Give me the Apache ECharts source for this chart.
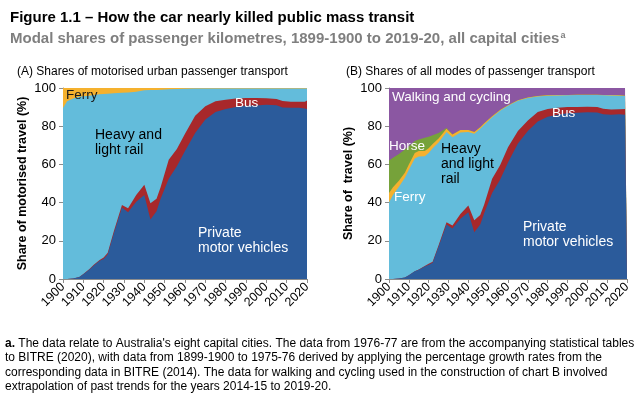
<!DOCTYPE html>
<html>
<head>
<meta charset="utf-8">
<script src="https://cdn.jsdelivr.net/npm/echarts@6/dist/echarts.min.js"></script>
<style>
  html, body { margin: 0; padding: 0; background: #fff; }
  #chart { width: 644px; height: 397px; }
</style>
</head>
<body>
<div id="chart"></div>
<script>
var years = [1900, 1902, 1905, 1908, 1910, 1913, 1915, 1918, 1920, 1922, 1925, 1929, 1932, 1936, 1940, 1943, 1946, 1948,
  1952, 1956, 1960, 1965, 1970, 1975, 1980, 1985, 1990, 1995, 2000, 2005, 2008, 2012, 2016, 2019, 2020];

// chart A - shares of motorised travel (%)
var motorPmv = [0, 0, 0.3, 1, 2.5, 5, 7, 9.5, 10.5, 13, 24, 37.5, 35, 40.5, 44, 31.2, 35.5, 42,
  52.5, 59, 67, 76.5, 83.5, 87.5, 89, 90, 90.7, 90.8, 91.2, 91, 89.8, 89.6, 89.7, 89.3, 89];
var motorBus = [0, 0, 0, 0, 0.1, 0.2, 0.3, 0.5, 0.8, 0.8, 1, 1.2, 2, 3.5, 5.3, 8.5, 6.5, 6,
  10, 9, 9, 9, 7, 5.5, 4.8, 4.5, 4.1, 4, 3.4, 3.2, 3.4, 3.2, 3.1, 3.5, 4.5];
var motorRail = [89.5, 93, 94.2, 94.4, 93.1, 90.8, 89, 86.7, 85.5, 83.2, 72.2, 58.8, 60.7, 54, 49.5, 59.2, 57, 51.1,
  36.8, 31.5, 23.6, 14.2, 9.2, 6.8, 6, 5.3, 5, 5, 5.2, 5.6, 6.6, 7, 7, 7, 6.3];
var motorFerry = [10.5, 7, 5.5, 4.6, 4.3, 4, 3.7, 3.3, 3.2, 3, 2.8, 2.5, 2.3, 2, 1.2, 1.1, 1, 0.9,
  0.7, 0.5, 0.4, 0.3, 0.3, 0.2, 0.2, 0.2, 0.2, 0.2, 0.2, 0.2, 0.2, 0.2, 0.2, 0.2, 0.2];

// chart B - shares of all travel (%)
var allPmv = [0, 0, 0.2, 0.8, 2, 4, 4.8, 6.5, 7.5, 8.5, 17, 28.5, 26.5, 31.5, 35, 24.5, 28.5, 34.5,
  45, 52, 61, 71, 77.5, 82.5, 85, 86, 86.8, 87.1, 87.3, 87.2, 86.3, 86, 86.2, 86, 85.8];
var allBus = [0, 0, 0, 0, 0, 0.1, 0.2, 0.3, 0.5, 0.5, 0.7, 1.2, 1.5, 2.5, 3.5, 6.3, 5, 4.5,
  7.5, 7.5, 8, 6.5, 5.5, 5, 4, 3.7, 3.2, 3, 2.9, 2.8, 2.8, 2.7, 2.7, 3, 3.6];
var allRail = [40, 44, 48.1, 52.2, 55.2, 59, 59.2, 57.5, 58, 59.5, 53.8, 47.2, 46.2, 42.7, 38.5, 45.2, 45.2, 41.8,
  32.2, 28.6, 21.7, 15.8, 11.8, 8.1, 7, 6.4, 6.2, 6.2, 6.1, 6.3, 7.1, 7.4, 7.1, 6.8, 6.2];
var allFerry = [5, 4, 3.2, 2.6, 2.8, 2.9, 2.8, 2.7, 2.5, 2.2, 2, 1.8, 1.5, 1.3, 1, 1, 0.8, 0.7,
  0.5, 0.4, 0.3, 0.25, 0.2, 0.2, 0.2, 0.2, 0.2, 0.2, 0.2, 0.2, 0.2, 0.2, 0.2, 0.2, 0.2];
var allHorse = [17, 15.5, 14, 12.2, 9.5, 6.2, 6, 7, 6, 4.5, 3, 0.3, 0, 0, 0, 0, 0, 0,
  0, 0, 0, 0, 0, 0, 0, 0, 0, 0, 0, 0, 0, 0, 0, 0, 0];
var allWalk = [38, 36.5, 34.5, 32.2, 30.5, 27.8, 27, 26, 25.5, 24.8, 23.5, 21, 24.3, 22, 22, 23, 20.5, 18.5,
  14.8, 11.5, 9, 6.5, 5, 4.2, 3.8, 3.7, 3.6, 3.5, 3.5, 3.5, 3.6, 3.7, 3.8, 4, 4.2];

var colPmv = "#2b5b9b";
var colBus = "#a8282b";
var colRail = "#63bcdb";
var colFerry = "#f5b12e";
var colHorse = "#76a23a";
var colWalk = "#8b57a2";

var font = "Liberation Sans, Arial, sans-serif";

// builds stacked areas: each band is drawn as the running total from the bottom,
// top bands first so the lower ones are painted over them
function stackedSeries(layers, idx) {
  var totals = years.map(function () { return 0; });
  var out = [];
  layers.forEach(function (l) {
    totals = totals.map(function (t, i) { return t + l.vals[i]; });
    out.push({
      name: l.name,
      type: "line",
      xAxisIndex: idx,
      yAxisIndex: idx,
      data: years.map(function (y, i) { return [y, Math.min(totals[i], 100)]; }),
      showSymbol: false,
      symbol: "none",
      silent: true,
      lineStyle: { width: 0 },
      areaStyle: { color: l.color, opacity: 1 },
      itemStyle: { color: l.color },
    });
  });
  return out.reverse();
}

function xAx(idx) {
  return {
    type: "value",
    gridIndex: idx,
    min: 1900,
    max: 2020,
    interval: 10,
    splitLine: { show: false },
    axisLine: { lineStyle: { color: "#8c8c8c" } },
    axisTick: { length: 4, lineStyle: { color: "#8c8c8c" } },
    axisLabel: {
      rotate: 45,
      color: "#000",
      fontSize: 12.5,
      fontFamily: font,
      margin: 6,
      formatter: function (v) { return "" + v; },
    },
  };
}

function yAx(idx, name, gap) {
  return {
    type: "value",
    gridIndex: idx,
    min: 0,
    max: 100,
    interval: 20,
    name: name,
    nameLocation: "middle",
    nameGap: gap,
    nameTextStyle: { color: "#000", fontSize: 12.5, fontWeight: "bold", fontFamily: font },
    splitLine: { show: false },
    axisLine: { show: true, lineStyle: { color: "#8c8c8c" } },
    axisTick: { show: true, length: 4, lineStyle: { color: "#8c8c8c" } },
    axisLabel: { color: "#000", fontSize: 13, fontFamily: font, margin: 7 },
  };
}

function label(text, x, y, color, size) {
  return {
    type: "text",
    left: x,
    top: y,
    z: 100,
    silent: true,
    style: { text: text, fill: color, font: (size || 13.5) + "px " + font, lineHeight: 15 },
  };
}

var chart = echarts.init(document.getElementById("chart"));
var option = {
  animation: false,
  title: [
    {
      text: "Figure 1.1 \u2013 How the car nearly killed public mass transit",
      left: 5,
      top: 5,
      textStyle: { fontSize: 15, fontWeight: "bold", color: "#000", fontFamily: font },
    },
    {
      text: "Modal shares of passenger kilometres, 1899-1900 to 2019-20, all capital cities{s|a}",
      left: 5,
      top: 26,
      textStyle: {
        fontSize: 15,
        fontWeight: "bold",
        color: "#7f7f7f",
        fontFamily: font,
        rich: { s: { fontSize: 9, fontWeight: "bold", color: "#7f7f7f", verticalAlign: "top", padding: [0, 0, 7, 1] } },
      },
    },
    {
      text: "(A) Shares of motorised urban passenger transport",
      left: 12,
      top: 61,
      textStyle: { fontSize: 12, fontWeight: "normal", color: "#000", fontFamily: font },
    },
    {
      text: "(B) Shares of all modes of passenger transport",
      left: 341,
      top: 61,
      textStyle: { fontSize: 12, fontWeight: "normal", color: "#000", fontFamily: font },
    },
  ],
  grid: [
    { left: 63, top: 88, width: 244, height: 191 },
    { left: 389, top: 88, width: 238, height: 191 },
  ],
  xAxis: [xAx(0), xAx(1)],
  yAxis: [yAx(0, "Share of motorised travel (%)", 34), yAx(1, "Share of  travel (%)", 34)],
  series: stackedSeries([
    { name: "Private motor vehicles", vals: motorPmv, color: colPmv },
    { name: "Bus", vals: motorBus, color: colBus },
    { name: "Heavy and light rail", vals: motorRail, color: colRail },
    { name: "Ferry", vals: motorFerry, color: colFerry },
  ], 0).concat(stackedSeries([
    { name: "Private motor vehicles", vals: allPmv, color: colPmv },
    { name: "Bus", vals: allBus, color: colBus },
    { name: "Heavy and light rail", vals: allRail, color: colRail },
    { name: "Ferry", vals: allFerry, color: colFerry },
    { name: "Horse", vals: allHorse, color: colHorse },
    { name: "Walking and cycling", vals: allWalk, color: colWalk },
  ], 1)),
  graphic: [
    label("Ferry", 66, 88, "#1a1a1a"),
    label("Heavy and\nlight rail", 95, 128, "#000", 14),
    label("Bus", 235, 96, "#fff"),
    label("Private\nmotor vehicles", 198, 226, "#fff", 14),
    label("Walking and cycling", 392, 90, "#fff"),
    label("Horse", 389, 139, "#fff"),
    label("Ferry", 394, 190, "#fff"),
    label("Heavy\nand light\nrail", 441, 142, "#000", 14),
    label("Bus", 552, 106, "#fff"),
    label("Private\nmotor vehicles", 523, 220, "#fff", 14),
    {
      type: "text",
      left: 5,
      top: 336,
      silent: true,
      style: {
        text: "{b|a.} The data relate to Australia's eight capital cities. The data from 1976-77 are from the accompanying statistical tables\n" +
          "to BITRE (2020), with data from 1899-1900 to 1975-76 derived by applying the percentage growth rates from the\n" +
          "corresponding data in BITRE (2014). The data for walking and cycling used in the construction of chart B involved\n" +
          "extrapolation of past trends for the years 2014-15 to 2019-20.",
        fill: "#000",
        font: "12px " + font,
        lineHeight: 14.5,
        rich: { b: { fontWeight: "bold", fontSize: 12, fontFamily: font } },
      },
    },
  ],
};
chart.setOption(option);
</script>
</body>
</html>
